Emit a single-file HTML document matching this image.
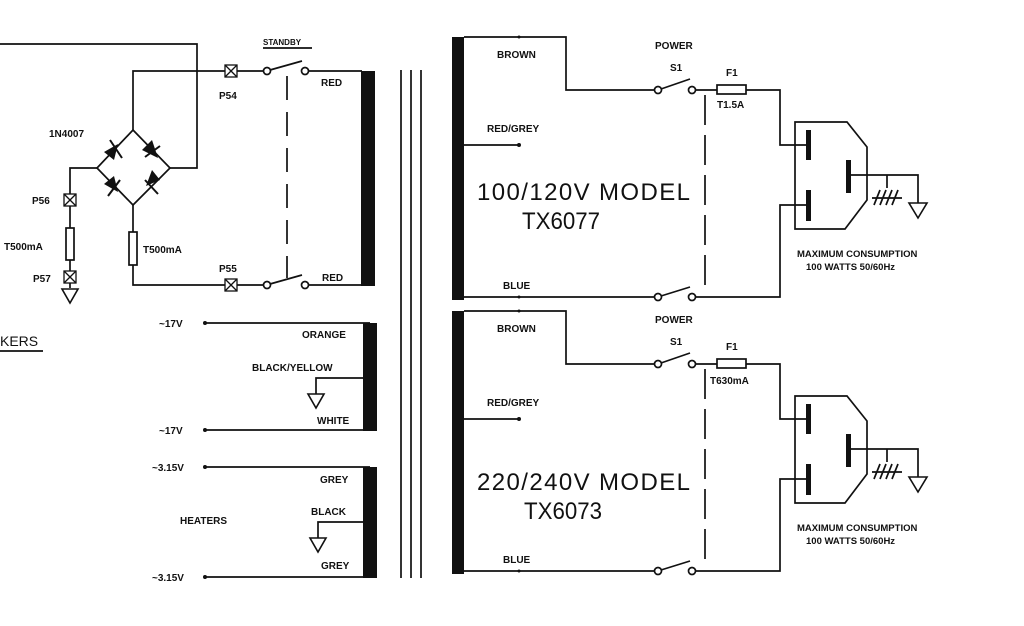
<!DOCTYPE html>
<html><head><meta charset="utf-8"><style>
html,body{margin:0;padding:0;background:#fff;}
svg{display:block;}
text{font-family:"Liberation Sans",sans-serif;fill:#111;font-weight:bold;}
.s{font-size:10px;}
.b{font-size:24px;font-weight:normal;}
</style></head><body>
<svg width="1024" height="626" viewBox="0 0 1024 626" xmlns="http://www.w3.org/2000/svg">
<defs>
<g id="gnd"><path d="M-8,0 L8,0 L0,14 Z" fill="none" stroke="#111" stroke-width="1.6"/></g>
</defs>
<g stroke="#111" stroke-width="1.7" fill="none">
<polyline points="0,44 197,44 197,168 170,168"/>
<polyline points="133,130 133,71 225,71"/>
<line x1="237" y1="71" x2="264" y2="71"/>
<circle cx="267" cy="71" r="3.5" fill="#fff"/>
<line x1="270" y1="70" x2="302" y2="61"/>
<circle cx="305" cy="71" r="3.5" fill="#fff"/>
<line x1="309" y1="71" x2="362" y2="71"/>
<polygon points="133,130 170,168 133,205 97,168"/>
<polyline points="97,168 70,168 70,194"/>
<line x1="70" y1="206" x2="70" y2="228"/>
<rect x="66" y="228" width="8" height="32"/>
<line x1="70" y1="260" x2="70" y2="271"/>
<line x1="70" y1="283" x2="70" y2="288"/>
<polyline points="133,205 133,232"/>
<rect x="129" y="232" width="8" height="33"/>
<polyline points="133,265 133,285 225,285"/>
<line x1="237" y1="285" x2="264" y2="285"/>
<circle cx="267" cy="285" r="3.5" fill="#fff"/>
<line x1="270" y1="284" x2="302" y2="275"/>
<circle cx="305" cy="285" r="3.5" fill="#fff"/>
<line x1="309" y1="285" x2="362" y2="285"/>
<line x1="287" y1="76" x2="287" y2="278" stroke-dasharray="24,12"/>
<g stroke-width="1.3">
<rect x="225" y="65" width="12" height="12"/><path d="M225,65 L237,77 M237,65 L225,77"/>
<rect x="225" y="279" width="12" height="12"/><path d="M225,279 L237,291 M237,279 L225,291"/>
<rect x="64" y="194" width="12" height="12"/><path d="M64,194 L76,206 M76,194 L64,206"/>
<rect x="64" y="271" width="12" height="12"/><path d="M64,271 L76,283 M76,271 L64,283"/>
</g>
<line x1="401" y1="70" x2="401" y2="578"/>
<line x1="411" y1="70" x2="411" y2="578"/>
<line x1="421" y1="70" x2="421" y2="578"/>
<line x1="205" y1="323" x2="370" y2="323"/>
<line x1="205" y1="430" x2="370" y2="430"/>
<polyline points="370,378 316,378 316,394"/>
<line x1="205" y1="467" x2="370" y2="467"/>
<line x1="205" y1="577" x2="370" y2="577"/>
<polyline points="370,522 318,522 318,538"/>
<line x1="0" y1="351" x2="43" y2="351"/>
<line x1="263" y1="48" x2="312" y2="48"/>
</g>
<g fill="#111">
<polygon points="104,152 118,144 114,160"/>
<polygon points="152,140 158,158 142,150"/>
<polygon points="104,184 114,176 118,192"/>
<polygon points="160,180 146,186 152,170"/>
</g>
<g stroke="#111" stroke-width="2">
<line x1="110" y1="140" x2="122" y2="158"/>
<line x1="145" y1="157" x2="160" y2="146"/>
<line x1="108" y1="196" x2="120" y2="180"/>
<line x1="145" y1="180" x2="158" y2="194"/>
</g>
<use href="#gnd" x="70" y="289"/>
<use href="#gnd" x="316" y="394"/>
<use href="#gnd" x="318" y="538"/>
<rect x="361" y="71" width="14" height="215" fill="#111"/>
<rect x="363" y="323" width="14" height="108" fill="#111"/>
<rect x="363" y="467" width="14" height="111" fill="#111"/>
<g fill="#111">
<circle cx="205" cy="323" r="2"/><circle cx="205" cy="430" r="2"/><circle cx="205" cy="467" r="2"/><circle cx="205" cy="577" r="2"/>
</g>
<text class="s" x="263" y="45" style="font-size:8px">STANDBY</text>
<text class="s" x="219" y="99">P54</text>
<text class="s" x="321" y="86">RED</text>
<text class="s" x="49" y="137">1N4007</text>
<text class="s" x="32" y="204">P56</text>
<text class="s" x="4" y="250">T500mA</text>
<text class="s" x="143" y="253">T500mA</text>
<text class="s" x="33" y="282">P57</text>
<text class="s" x="219" y="272">P55</text>
<text class="s" x="322" y="281">RED</text>
<text x="0" y="346" style="font-size:14px;font-weight:normal">KERS</text>
<text class="s" x="159" y="327">~17V</text>
<text class="s" x="159" y="434">~17V</text>
<text class="s" x="152" y="471">~3.15V</text>
<text class="s" x="152" y="581">~3.15V</text>
<text class="s" x="302" y="338">ORANGE</text>
<text class="s" x="252" y="371">BLACK/YELLOW</text>
<text class="s" x="317" y="424">WHITE</text>
<text class="s" x="320" y="483">GREY</text>
<text class="s" x="180" y="524">HEATERS</text>
<text class="s" x="311" y="515">BLACK</text>
<text class="s" x="321" y="569">GREY</text>

<g id="prim">
<rect x="452" y="37" width="12" height="263" fill="#111"/>
<g stroke="#111" stroke-width="1.7" fill="none">
<polyline points="464,37 566,37 566,90 655,90"/>
<circle cx="658" cy="90" r="3.5" fill="#fff"/>
<line x1="661" y1="89" x2="690" y2="79"/>
<circle cx="692" cy="90" r="3.5" fill="#fff"/>
<line x1="696" y1="90" x2="717" y2="90"/>
<rect x="717" y="85" width="29" height="9"/>
<polyline points="746,90 780,90 780,145 808,145"/>
<line x1="464" y1="145" x2="519" y2="145"/>
<polyline points="464,297 655,297"/>
<circle cx="658" cy="297" r="3.5" fill="#fff"/>
<line x1="661" y1="296" x2="690" y2="287"/>
<circle cx="692" cy="297" r="3.5" fill="#fff"/>
<polyline points="696,297 780,297 780,205 808,205"/>
<line x1="705" y1="95" x2="705" y2="292" stroke-dasharray="30,10"/>
<polygon points="795,122 847,122 867,147 867,200 845,229 795,229"/>
<polyline points="848,175 918,175 918,203"/>
<line x1="887" y1="175" x2="887" y2="188"/>
<path d="M872,198 L902,198 M874,205 L880,190 M880,205 L886,190 M886,205 L892,190 M892,205 L898,190"/>
<path d="M909,203 L927,203 L918,218 Z" stroke-width="1.6"/>
</g>
<rect x="806" y="130" width="5" height="30" fill="#111"/>
<rect x="806" y="190" width="5" height="31" fill="#111"/>
<rect x="846" y="160" width="5" height="33" fill="#111"/>
<circle cx="519" cy="145" r="2" fill="#111"/>
<circle cx="519" cy="37" r="1.5" fill="#111"/>
<circle cx="519" cy="297" r="1.5" fill="#111"/>
<text class="s" x="497" y="58">BROWN</text>
<text class="s" x="655" y="49">POWER</text>
<text class="s" x="670" y="71">S1</text>
<text class="s" x="726" y="76">F1</text>
<text class="s" x="487" y="132">RED/GREY</text>
<text class="s" x="503" y="289">BLUE</text>
<text class="s" x="797" y="257" style="font-size:9.5px">MAXIMUM  CONSUMPTION</text>
<text class="s" x="806" y="270" style="font-size:9.5px">100  WATTS  50/60Hz</text>
</g>
<text class="s" x="717" y="108">T1.5A</text>
<text class="b" x="477" y="200" textLength="213" lengthAdjust="spacing">100/120V  MODEL</text>
<text class="b" x="522" y="229" textLength="78" lengthAdjust="spacingAndGlyphs">TX6077</text>
<use href="#prim" x="0" y="274"/>
<text class="s" x="710" y="384">T630mA</text>
<text class="b" x="477" y="490" textLength="213" lengthAdjust="spacing">220/240V  MODEL</text>
<text class="b" x="524" y="519" textLength="78" lengthAdjust="spacingAndGlyphs">TX6073</text>
</svg>
</body></html>
